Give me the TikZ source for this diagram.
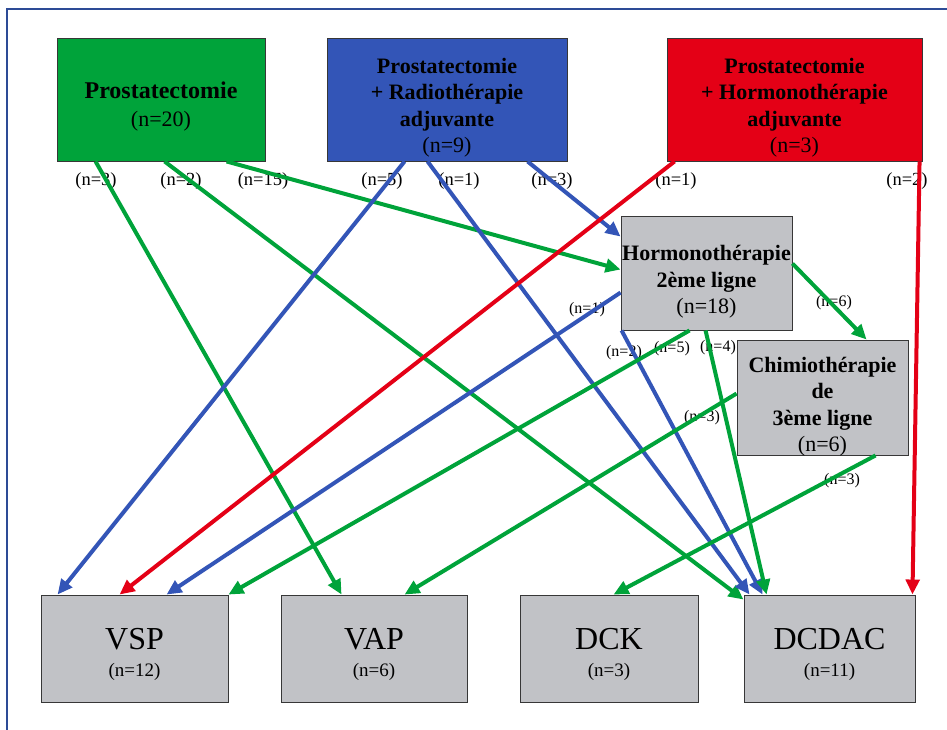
\documentclass[tikz,border=0pt]{standalone}
\usepackage{fontspec}
\setmainfont{Liberation Serif}
\usetikzlibrary{arrows.meta}
\definecolor{cgreen}{RGB}{0,163,58}
\definecolor{cblue}{RGB}{51,85,183}
\definecolor{cred}{RGB}{228,0,22}
\definecolor{cgray}{RGB}{193,194,198}
\definecolor{boxline}{RGB}{55,55,55}
\definecolor{frame}{RGB}{45,75,150}
\begin{document}
\begin{tikzpicture}[x=1pt,y=-1pt,
  box/.style={draw=boxline,line width=0.9pt,rectangle,inner sep=0pt},
  topbox/.style={box,minimum width=#1,minimum height=123pt},
  midbox/.style={box,fill=cgray,minimum width=171pt,minimum height=#1},
  endbox/.style={box,fill=cgray,minimum width=#1,minimum height=107pt},
  boxtext/.style={inner sep=0pt,align=center,font=\fontsize{22}{26.5}\selectfont},
  endtext/.style={inner sep=0pt,align=center,font=\fontsize{19}{27}\selectfont},
  biglab/.style={inner sep=0pt,font=\fontsize{18.5}{18.5}\selectfont},
  smalllab/.style={inner sep=0pt,font=\fontsize{16}{16}\selectfont},
  arr/.style={line width=4pt,-{Triangle[length=15pt,width=13.5pt]}}
]
\useasboundingbox (0,0) rectangle (947,730);
\draw[frame,line width=2pt] (7,730) -- (7,9) -- (947,9);

% boxes
\node[topbox=208pt,fill=cgreen,
  label={[boxtext,font=\fontsize{22}{28}\selectfont,yshift=-7pt]center:{{\fontsize{24}{28}\selectfont\bfseries Prostatectomie}\\(n=20)}}]
  (pro) at (161,99.5) {};
\node[topbox=240pt,fill=cblue,
  label={[boxtext,yshift=-8pt]center:{\textbf{Prostatectomie}\\\textbf{+ Radiothérapie}\\\textbf{adjuvante}\\(n=9)}}]
  (rad) at (447,99.5) {};
\node[topbox=255pt,fill=cred,
  label={[boxtext,yshift=-8pt]center:{\textbf{Prostatectomie}\\\textbf{+ Hormonothérapie}\\\textbf{adjuvante}\\(n=3)}}]
  (hor) at (794.5,99.5) {};
\node[midbox=114pt,
  label={[boxtext,yshift=-9pt]center:{\textbf{Hormonothérapie}\\\textbf{2ème ligne}\\(n=18)}}]
  (hm2) at (706.5,273) {};
\node[midbox=115pt,
  label={[boxtext,yshift=-9pt]center:{\textbf{Chimiothérapie}\\\textbf{de}\\\textbf{3ème ligne}\\(n=6)}}]
  (chi) at (822.5,397.5) {};
\node[endbox=187pt,label={[endtext,yshift=-6pt]center:{{\fontsize{32}{27}\selectfont VSP}\\(n=12)}}]
  (vsp) at (134.5,648.5) {};
\node[endbox=186pt,label={[endtext,yshift=-6pt]center:{{\fontsize{32}{27}\selectfont VAP}\\(n=6)}}]
  (vap) at (374,648.5) {};
\node[endbox=178pt,label={[endtext,yshift=-6pt]center:{{\fontsize{32}{27}\selectfont DCK}\\(n=3)}}]
  (dck) at (609,648.5) {};
\node[endbox=171pt,label={[endtext,yshift=-6pt]center:{{\fontsize{32}{27}\selectfont DCDAC}\\(n=11)}}]
  (dcd) at (829.5,648.5) {};

% labels
\node[biglab] (l1) at (96,181) {(n=3)};
\node[biglab] (l2) at (181,181) {(n=2)};
\node[biglab] (l3) at (263,181) {(n=15)};
\node[biglab] (l4) at (382,181) {(n=5)};
\node[biglab] (l5) at (459,181) {(n=1)};
\node[biglab] (l6) at (552,181) {(n=3)};
\node[biglab] (l7) at (676,181) {(n=1)};
\node[biglab] (l8) at (907,181) {(n=2)};
\node[smalllab] (l9) at (587,310) {(n=1)};
\node[smalllab] (l10) at (834,303) {(n=6)};
\node[smalllab] (l11) at (624,353) {(n=2)};
\node[smalllab] (l12) at (672,349) {(n=5)};
\node[smalllab] (l13) at (718,348) {(n=4)};
\node[smalllab] (l14) at (702,418) {(n=3)};
\node[smalllab] (l15) at (842,481) {(n=3)};

% connectors
\draw[arr,cgreen] ([xshift=39pt]pro.south west) -- ([xshift=61pt]vap.north west);
\draw[arr,cgreen] ([xshift=108pt]pro.south west) -- ([yshift=-5pt]dcd.north west);
\draw[arr,cgreen] ([xshift=170pt]pro.south west) -- ([yshift=-54pt]hm2.north west);
\draw[arr,cblue] ([xshift=78pt]rad.south west) -- ([xshift=17pt]vsp.north west);
\draw[arr,cblue] ([xshift=101pt]rad.south west) -- ([xshift=6pt]dcd.north west);
\draw[arr,cblue] ([xshift=201pt]rad.south west) -- ([yshift=-21pt]hm2.north west);
\draw[arr,cred] ([xshift=8pt]hor.south west) -- ([xshift=79pt]vsp.north west);
\draw[arr,cred] ([xshift=253pt]hor.south west) -- ([xshift=-3pt]dcd.north east);
\draw[arr,cblue] ([yshift=-77pt]hm2.north west) -- ([xshift=126pt]vsp.north west);
\draw[arr,cgreen] ([yshift=-48pt]hm2.north east) -- ([xshift=130pt]chi.north west);
\draw[arr,cblue] ([xshift=1pt]hm2.south west) -- ([xshift=19pt]dcd.north west);
\draw[arr,cgreen] ([xshift=69pt]hm2.south west) -- (vsp.north east);
\draw[arr,cgreen] ([xshift=85pt]hm2.south west) -- ([xshift=23pt]dcd.north west);
\draw[arr,cgreen] ([yshift=-54pt]chi.north west) -- ([xshift=124pt]vap.north west);
\draw[arr,cgreen] ([xshift=139pt]chi.south west) -- ([xshift=94pt]dck.north west);
\end{tikzpicture}
\end{document}
